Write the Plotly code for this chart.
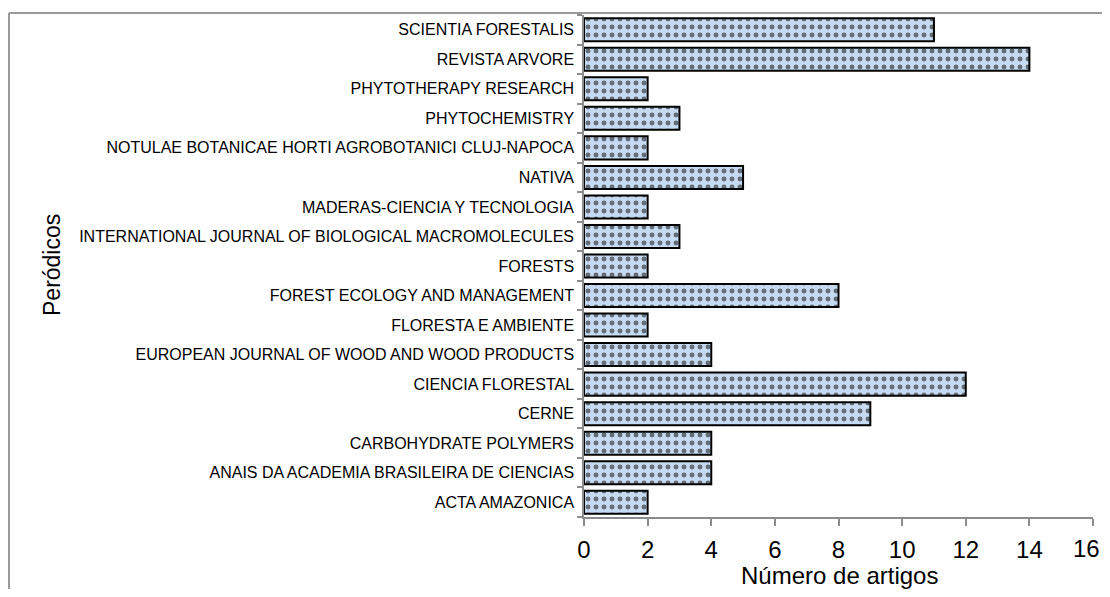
import plotly.graph_objects as go

categories = [
    "ACTA AMAZONICA",
    "ANAIS DA ACADEMIA BRASILEIRA DE CIENCIAS",
    "CARBOHYDRATE POLYMERS",
    "CERNE",
    "CIENCIA FLORESTAL",
    "EUROPEAN JOURNAL OF WOOD AND WOOD PRODUCTS",
    "FLORESTA E AMBIENTE",
    "FOREST ECOLOGY AND MANAGEMENT",
    "FORESTS",
    "INTERNATIONAL JOURNAL OF BIOLOGICAL MACROMOLECULES",
    "MADERAS-CIENCIA Y TECNOLOGIA",
    "NATIVA",
    "NOTULAE BOTANICAE HORTI AGROBOTANICI CLUJ-NAPOCA",
    "PHYTOCHEMISTRY",
    "PHYTOTHERAPY RESEARCH",
    "REVISTA ARVORE",
    "SCIENTIA FORESTALIS",
]
values = [2, 4, 4, 9, 12, 4, 2, 8, 2, 3, 2, 5, 2, 3, 2, 14, 11]
x_ticks = [0, 2, 4, 6, 8, 10, 12, 14, 16]

# page body has an 8px margin; figure coordinates are shifted accordingly
W, H = 1102, 581
L, R, T, B = 576, 17, 7, 72
pw, ph = W - L - R, H - T - B

fill = "#c6dbf1"
fig = go.Figure(go.Bar(
    x=values, y=categories, orientation="h",
    marker=dict(
        color=fill,
        line=dict(color="black", width=2),
        pattern=dict(shape=".", fgcolor="black", bgcolor=fill, size=8, solidity=0.3),
    ),
    hoverinfo="x+y",
))

# last tick label is drawn as right-anchored text so it stays inside the page
tick_text = [str(v) for v in x_ticks[:-1]] + [""]

axis_gray = "#8c8c8c"
fig.update_layout(
    width=W, height=H,
    margin=dict(l=L, r=R, t=T, b=B),
    plot_bgcolor="white", paper_bgcolor="white",
    bargap=0.22,
    showlegend=False,
    font=dict(family="Liberation Sans, Arial, sans-serif", color="black"),
    xaxis=dict(
        range=[0, 16], tickvals=x_ticks, ticktext=tick_text,
        showgrid=False, zeroline=False, showline=True, linecolor=axis_gray, linewidth=1.5,
        ticks="outside", ticklen=7, tickcolor=axis_gray, tickwidth=1.5,
        tickfont=dict(size=24), ticklabelstandoff=3, automargin=False,
        ticklabeloverflow="allow",
    ),
    yaxis=dict(
        type="category", categoryorder="array", categoryarray=categories,
        showgrid=False, zeroline=False, showline=True, linecolor=axis_gray, linewidth=1.5,
        ticks="outside", ticklen=5, tickcolor=axis_gray, tickwidth=1.5, tickson="boundaries",
        tickfont=dict(size=16), ticklabelstandoff=5, automargin=False,
    ),
    annotations=[
        dict(text=str(x_ticks[-1]), xref="paper", yref="paper",
             x=(1094 - L) / pw, y=(H - B - 540) / ph, xanchor="right", yanchor="middle",
             showarrow=False, font=dict(size=24)),
        dict(text="Número de artigos", xref="paper", yref="paper",
             x=(831 - L) / pw, y=(H - B - 567) / ph, xanchor="center", yanchor="middle",
             showarrow=False, font=dict(size=24)),
        dict(text="Peródicos", xref="paper", yref="paper", textangle=-90,
             x=(44 - L) / pw, y=(H - B - 257) / ph, xanchor="center", yanchor="middle",
             showarrow=False, font=dict(size=23)),
    ],
)

# outer frame (top and left edges visible in reference)
fx0 = (1 - L) / pw
fy1 = (H - B - 5) / ph
fig.add_shape(type="line", xref="paper", yref="paper", x0=fx0, x1=(W + 20 - L) / pw, y0=fy1, y1=fy1,
              line=dict(color="#9a9a9a", width=2))
fig.add_shape(type="line", xref="paper", yref="paper", x0=fx0, x1=fx0, y0=fy1, y1=-(B + 20) / ph,
              line=dict(color="#9a9a9a", width=2))

fig.write_html("out.html")
